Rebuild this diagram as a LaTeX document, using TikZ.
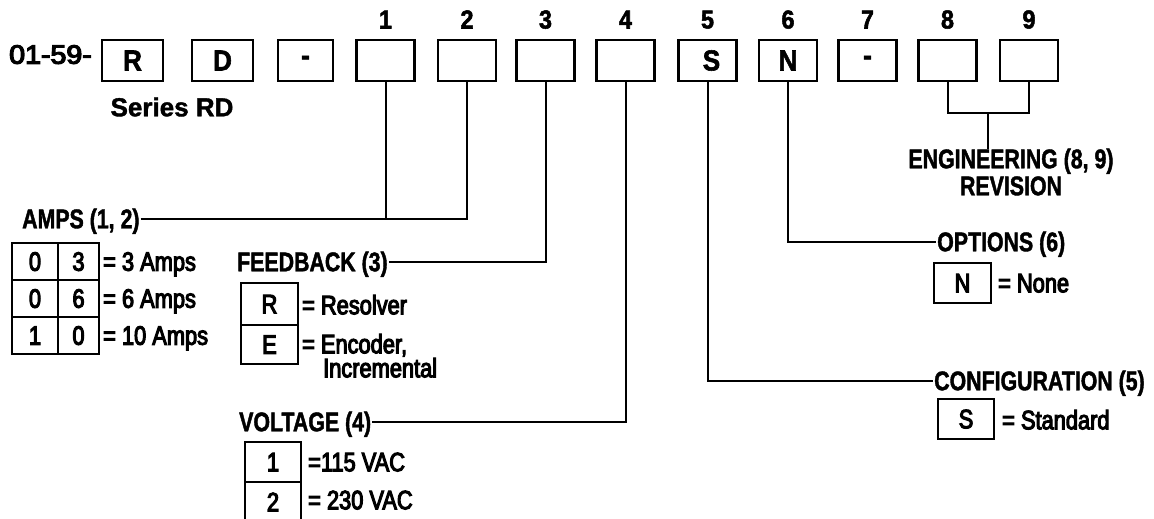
\documentclass[tikz,border=0pt]{standalone}
\usepackage{fontspec}
\usepackage{graphicx}
\setmainfont[FakeStretch=0.82]{Liberation Sans}
\newfontfamily\medfont[FakeStretch=0.82,FakeBold=4]{Liberation Sans}
\newfontfamily\heavyfont[FakeStretch=0.9,FakeBold=2]{Liberation Sans Bold}
\newfontfamily\seriesfont[FakeBold=1.5]{Liberation Sans Bold}
\newfontfamily\headfont[FakeStretch=0.79,FakeBold=1.5]{Liberation Sans Bold}
\usetikzlibrary{positioning}

\tikzset{
  codebox/.style={draw, line width=2.6pt, minimum width=58pt, minimum height=41pt,
    inner sep=0pt, font=\heavyfont\fontsize{29}{29}\selectfont},
  posnum/.style={inner sep=0pt, text height=18pt, text depth=0pt,
    font=\heavyfont\fontsize{26}{26}\selectfont},
  heading/.style={anchor=west, inner sep=1pt, text height=18.5pt, text depth=0pt,
    font=\headfont\fontsize{27}{27}\selectfont},
  meaning/.style={anchor=west, inner sep=0pt, text height=18.5pt, text depth=0pt,
    font=\medfont\fontsize{26.6}{26.6}\selectfont},
  cell/.style={draw, line width=2pt, outer sep=0pt, inner sep=0pt, text height=18.5pt,
    text depth=0pt, font=\medfont\fontsize{26.6}{26.6}\selectfont},
  link/.style={line width=2pt}
}

\begin{document}
\begin{tikzpicture}[x=1pt,y=-1pt]
  \useasboundingbox (0,0) rectangle (1154,519);

  % model number row
  \node[meaning] (pre) at (9,54.5) {\scalebox{1.31}[1]{01-59-}};
  \node[codebox, minimum width=61pt] (r) at (132.5,60.5) {R};
  \node[codebox, minimum width=61pt] (d) at (222.5,60.5) {D};
  \node[codebox, minimum width=55pt] (dash) at (305.5,60.5) {-};
  \foreach \n/\x/\t in {1/385.5/{},2/467/{},3/545.5/{},4/625.5/{},5/707.5/{\hspace*{8pt}S},6/788/N,7/867.5/-,8/947.5/{},9/1029/{}}
    \node[codebox] (p\n) at (\x,60.5) {\t};
  \foreach \n in {1,...,9}
    \node[posnum, above=10pt of p\n] (n\n) {\n};
  \node[inner sep=0pt, font=\seriesfont\fontsize{26}{26}\selectfont] (series) at (172,107) {Series RD};

  % amps
  \node[heading] (amps) at (21,219) {AMPS (1, 2)};
  \draw[link] (amps.east) -| (p2.south);
  \draw[link] (p1.south) -- (p1.south |- amps.east);
  \foreach \a/\b/\t [count=\i] in {0/3/3 Amps,0/6/6 Amps,1/0/10 Amps} {
    \node[cell, minimum width=46pt, minimum height=37pt] (a\i) at (35,{224.5+37*\i}) {\a};
    \node[cell, minimum width=41pt, minimum height=37pt, right=0pt of a\i] (b\i) {\b};
    \node[meaning] (t\i) at (103,{224.5+37*\i}) {= \t};
  }

  % feedback
  \node[heading] (fb) at (236,262) {FEEDBACK (3)};
  \draw[link] (fb.east) -| (p3.south);
  \node[cell, minimum width=57pt, minimum height=42pt] (fr) at (269.5,304) {R};
  \node[cell, minimum width=57pt, minimum height=39pt, below=0pt of fr] (fe) {E};
  \node[meaning] (fbr) at (302,305) {= Resolver};
  \node[meaning] (fbe) at (302,344) {= Encoder,};
  \node[meaning] (fbi) at (323,368) {Incremental};

  % voltage
  \node[heading] (volt) at (238,422) {VOLTAGE (4)};
  \draw[link] (volt.east) -| (p4.south);
  \node[cell, minimum width=56pt, minimum height=40pt] (v1) at (273,462) {1};
  \node[cell, minimum width=56pt, minimum height=40pt, below=0pt of v1] (v2) {2};
  \node[meaning] (v1t) at (308,462) {=115 VAC};
  \node[meaning] (v2t) at (308,500) {= 230 VAC};

  % configuration
  \node[heading] (conf) at (933,381) {CONFIGURATION (5)};
  \draw[link] (p5.south) |- (conf.west);
  \node[cell, minimum width=56pt, minimum height=40pt] (cs) at (966,419) {S};
  \node[meaning] (cst) at (1002,420) {= Standard};

  % options
  \node[heading] (opt) at (936,242) {OPTIONS (6)};
  \draw[link] (p6.south) |- (opt.west);
  \node[cell, minimum width=57pt, minimum height=40pt] (on) at (962.5,283) {N};
  \node[meaning] (ont) at (998,283) {= None};

  % engineering revision
  \coordinate (engbar) at (988.25,113);
  \node[heading, anchor=center] (eng) at (1011,159) {ENGINEERING (8, 9)};
  \node[heading, anchor=center] (rev) at (1011,186) {REVISION};
  \draw[link] (p8.south) |- (engbar) -| (p9.south);
  \draw[link] (engbar) -- (engbar |- eng.north);
\end{tikzpicture}
\end{document}
